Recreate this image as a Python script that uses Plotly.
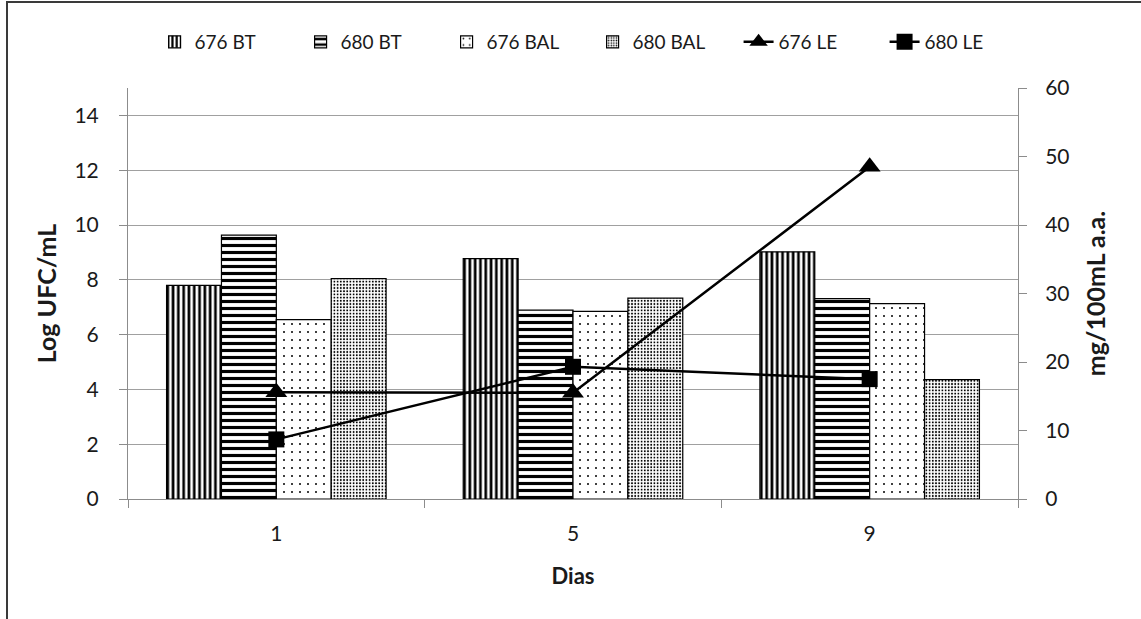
import plotly.graph_objects as go

dias = ["1", "5", "9"]
bt_676 = [7.8, 8.77, 9.02]
bt_680 = [9.63, 6.89, 7.31]
bal_676 = [6.55, 6.85, 7.13]
bal_680 = [8.04, 7.33, 4.36]
le_676 = [15.6, 15.5, 48.5]
le_680 = [8.7, 19.3, 17.5]

FONT = "Lato"
GRID = "#a0a0a0"
AX = "#8c8c8c"

fig = go.Figure()

def bar(name, vals, shape, size, solidity):
    fig.add_trace(go.Bar(
        name=name, x=dias, y=vals,
        marker=dict(color="white", line=dict(color="black", width=1.2),
                    pattern=dict(shape=shape, fgcolor="black", bgcolor="white",
                                 size=size, solidity=solidity, fillmode="replace")),
    ))

bar("676 BT", bt_676, "|", 5.3, 0.5)
bar("680 BT", bt_680, "-", 7, 0.45)
bar("676 BAL", bal_676, ".", 8, 0.05)
bar("680 BAL", bal_680, ".", 3.2, 0.28)

fig.add_trace(go.Scatter(
    name="676 LE", x=dias, y=le_676, yaxis="y2", mode="lines+markers",
    line=dict(color="black", width=2.5),
    marker=dict(symbol="triangle-up", size=19, color="black"),
))
fig.add_trace(go.Scatter(
    name="680 LE", x=dias, y=le_680, yaxis="y2", mode="lines+markers",
    line=dict(color="black", width=2.5),
    marker=dict(symbol="square", size=16, color="black"),
))

fig.update_layout(
    width=1141, height=619,
    margin=dict(l=128, r=123, t=88, b=120, autoexpand=False),
    paper_bgcolor="white", plot_bgcolor="white",
    font=dict(family=FONT, size=20, color="#1a1a1a"),
    barmode="group", bargap=0.26, bargroupgap=0,
    showlegend=True,
    legend=dict(orientation="h", x=0.522, xanchor="center", y=1.112, yanchor="middle",
                font=dict(size=19), entrywidth=101, entrywidthmode="pixels",
                traceorder="normal", bgcolor="rgba(0,0,0,0)"),
    xaxis=dict(type="category", tickson="boundaries", ticks="outside", ticklen=8,
               tickcolor=AX, showline=True, linecolor=AX, linewidth=1,
               showgrid=False, tickfont=dict(size=21), ticklabelstandoff=16,
               title=dict(text="<b>Dias</b>", font=dict(size=22), standoff=24)),
    yaxis=dict(range=[0, 15], tickvals=[0, 2, 4, 6, 8, 10, 12, 14],
               ticks="outside", ticklen=8, tickcolor=AX, showline=True, linecolor=AX,
               showgrid=True, gridcolor=GRID, gridwidth=1, zeroline=False,
               tickfont=dict(size=21), ticklabelstandoff=16,
               title=dict(text="<b>Log UFC/mL</b>", font=dict(size=25), standoff=10)),
    yaxis2=dict(range=[0, 60], tickvals=[0, 10, 20, 30, 40, 50, 60], overlaying="y",
                side="right", ticks="outside", ticklen=8, tickcolor=AX, showline=True,
                linecolor=AX, showgrid=False, zeroline=False,
                tickfont=dict(size=21), ticklabelstandoff=14,
                title=dict(text="<b>mg/100mL a.a.</b>", font=dict(size=25), standoff=18)),
    shapes=[dict(type="rect", xref="paper", yref="paper",
                 x0=(7 - 128) / 890, x1=(1141 + 10 - 128) / 890,
                 y0=-0.5, y1=(499 - 2) / 411,
                 line=dict(color="#3a3a3a", width=2), fillcolor="rgba(0,0,0,0)",
                 layer="below")],
)

fig.write_html("out.html")
